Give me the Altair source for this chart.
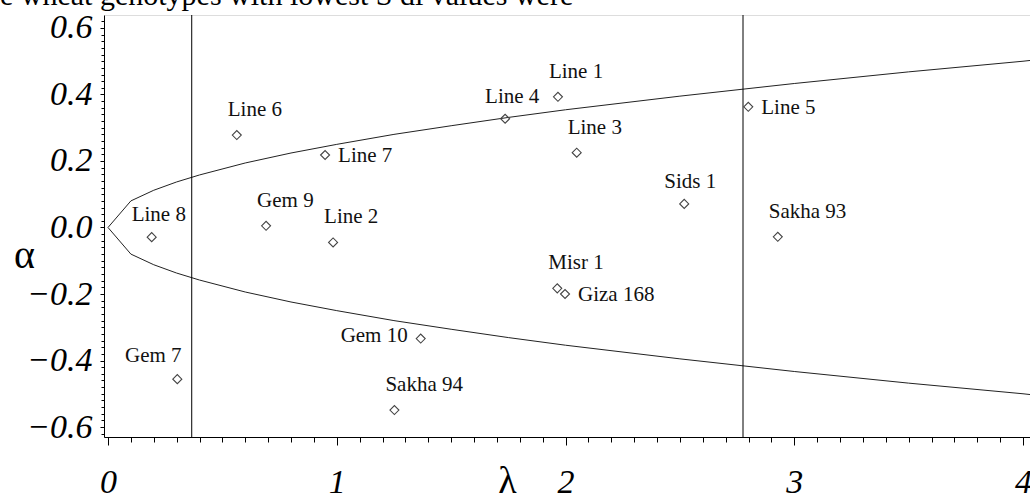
import altair as alt
import pandas as pd

# ---- data ----
genotypes = ["Line 1", "Line 2", "Line 3", "Line 4", "Line 5", "Line 6", "Line 7", "Line 8",
             "Gem 7", "Gem 9", "Gem 10", "Sakha 93", "Sakha 94", "Sids 1", "Misr 1", "Giza 168"]
lam_vals = [1.967, 0.984, 2.049, 1.736, 2.799, 0.563, 0.949, 0.191,
            0.303, 0.691, 1.367, 2.928, 1.252, 2.519, 1.964, 1.998]
alpha_vals = [0.393, -0.045, 0.225, 0.327, 0.363, 0.278, 0.218, -0.029,
              -0.456, 0.005, -0.334, -0.028, -0.549, 0.071, -0.183, -0.200]
placement = ["ne", "ne", "ne", "n", "e", "ne", "e", "n",
             "nw", "ne", "w", "ne", "ne", "n", "ne", "e"]

# confidence curve
curve_lam = [0, 0.1, 0.2, 0.3, 0.4, 0.6, 0.8, 1.0, 1.25, 1.5, 1.75, 2.0, 2.5, 3.0, 3.5, 4.0, 4.04]
curve_upper = [0, 0.080, 0.112, 0.137, 0.158, 0.194, 0.224, 0.250, 0.280, 0.306, 0.331,
               0.354, 0.395, 0.433, 0.468, 0.500, 0.503]
curve_lower = [0, -0.080, -0.112, -0.137, -0.158, -0.194, -0.224, -0.250, -0.280, -0.306, -0.331,
               -0.354, -0.395, -0.433, -0.468, -0.500, -0.503]

vlines = [0.366, 2.776]

x_major = [0, 1, 2, 3, 4]
y_major = [-0.6, -0.4, -0.2, 0.0, 0.2, 0.4, 0.6]
x_minor = [round(i * 0.1, 2) for i in range(0, 41)]
y_minor = [round(-0.62 + i * 0.02, 2) for i in range(0, 63)]

# ---- tables ----
pts = pd.DataFrame({"name": genotypes, "lam": lam_vals, "alpha": alpha_vals, "pos": placement})
curve = pd.DataFrame({
    "lam": curve_lam + curve_lam,
    "alpha": curve_upper + curve_lower,
    "branch": ["upper"] * len(curve_lam) + ["lower"] * len(curve_lam),
})
vl = pd.DataFrame({"lam": vlines})

xs = alt.Scale(domain=[-0.0175, 4.0306], nice=False, zero=False)
ys = alt.Scale(domain=[-0.630, 0.639], nice=False, zero=False)

SERIF = "Liberation Serif, Times New Roman, serif"

x_main_axis = alt.Axis(
    orient="bottom", values=x_major, format="d", grid=False,
    labelFont=SERIF, labelFontStyle="italic", labelFontSize=34, labelColor="black",
    labelPadding=20, labelFlush=False, labelOverlap=False,
    tickSize=8, tickColor="black", domainColor="black",
    title="λ", titleFont=SERIF, titleFontSize=38, titleFontWeight="normal", titleColor="black",
    titleX=403, titleY=44, titleBaseline="middle", titleAlign="center",
)
y_main_axis = alt.Axis(
    orient="left", values=y_major, format=".1f", grid=False,
    labelFont=SERIF, labelFontStyle="italic", labelFontSize=34, labelColor="black",
    labelPadding=8, labelFlush=False, labelOverlap=False,
    tickSize=4, tickColor="black", domainColor="black",
    title="α", titleFont=SERIF, titleFontSize=40, titleFontWeight="normal", titleColor="black",
    titleAngle=0, titleX=-80, titleY=240, titleBaseline="middle", titleAlign="center",
)
x_minor_axis = alt.Axis(orient="bottom", values=x_minor, labels=False, domain=False, grid=False,
                        tickSize=5, tickColor="black", title=None)
y_minor_axis = alt.Axis(orient="left", values=y_minor, labels=False, domain=False, grid=False,
                        tickSize=3, tickColor="black", title=None)

curve_layer = alt.Chart(curve).mark_line(color="#222", strokeWidth=1, clip=True).encode(
    x=alt.X("lam:Q", scale=xs, axis=x_main_axis),
    y=alt.Y("alpha:Q", scale=ys, axis=y_main_axis),
    detail="branch:N",
)

rule_layer = alt.Chart(vl).mark_rule(color="black", strokeWidth=1).encode(
    x=alt.X("lam:Q", scale=xs, axis=None),
)

point_layer = alt.Chart(pts).mark_point(shape="diamond", filled=False, size=81,
                                        color="#444", strokeWidth=1.1, opacity=1).encode(
    x=alt.X("lam:Q", scale=xs, axis=x_minor_axis),
    y=alt.Y("alpha:Q", scale=ys, axis=y_minor_axis),
)

offsets = {
    "ne": dict(align="left", dx=-9, dy=-25),
    "n": dict(align="left", dx=-20, dy=-22),
    "e": dict(align="left", dx=13, dy=1),
    "w": dict(align="right", dx=-13, dy=-3),
    "nw": dict(align="center", dx=-24, dy=-23),
}
text_layers = []
for key, o in offsets.items():
    text_layers.append(
        alt.Chart(pts).transform_filter(alt.datum.pos == key).mark_text(
            font=SERIF, fontSize=21, color="#111", baseline="middle", **o
        ).encode(
            x=alt.X("lam:Q", scale=xs, axis=None),
            y=alt.Y("alpha:Q", scale=ys, axis=None),
            text="name:N",
        )
    )

chart = alt.layer(curve_layer, rule_layer, point_layer, *text_layers).resolve_axis(
    x="independent", y="independent"
).properties(
    width=926, height=422,
    autosize=alt.AutoSizeParams(type="none"),
    padding={"left": 104, "top": 15, "right": 0, "bottom": 63},
    title=alt.TitleParams(
        text="e wheat genotypes with lowest S di values were",
        anchor="start", frame="group", dx=-104, dy=6, offset=6, fontSize=30, font=SERIF,
        fontWeight="normal", color="black",
    ),
).configure_view(stroke="#333", strokeWidth=1).configure(background="white")

chart.save("out.html", embed_options={"renderer": "svg", "actions": False})
